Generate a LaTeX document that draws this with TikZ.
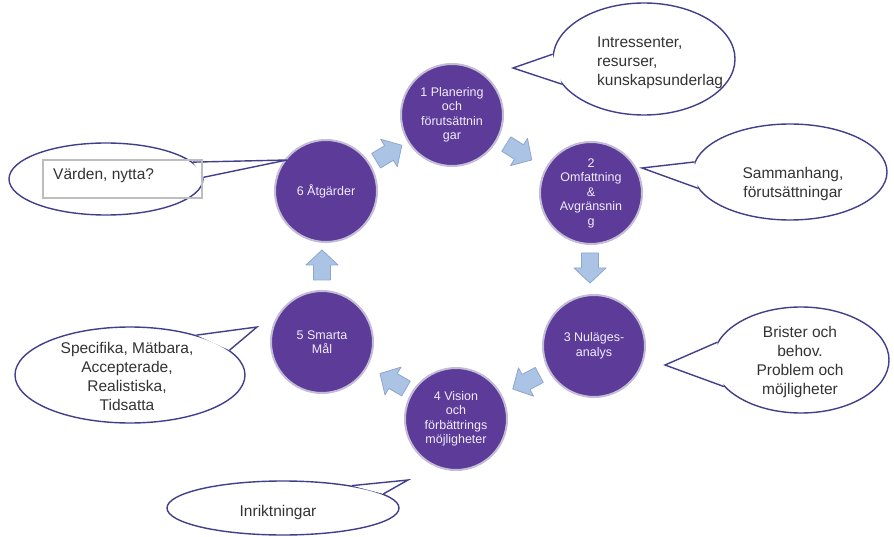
\documentclass[tikz,border=0pt]{standalone}
\usepackage{fontspec}
\setmainfont{Liberation Sans}
\usetikzlibrary{shapes.geometric}
\definecolor{circfill}{HTML}{5C3B99}
\definecolor{circring}{HTML}{C3BCD6}
\definecolor{circtext}{HTML}{F2ECFA}
\definecolor{arrfill}{HTML}{ABC4E6}
\definecolor{arrdraw}{HTML}{8DA6CC}
\definecolor{bubline}{HTML}{413F8C}
\definecolor{bubtext}{HTML}{333333}
\definecolor{boxline}{HTML}{BDBDBD}
\begin{document}
\begin{tikzpicture}[x=1pt,y=-1pt,
 stepcircle/.style={circle, fill=circfill, draw=circring, line width=2pt, minimum size=102pt, inner sep=0pt, text=circtext, align=center, font=\fontsize{12.5}{14.5}\selectfont},
 bubble/.style={ellipse, draw=bubline, fill=white, line width=1.4pt, inner sep=0pt},
 bubtxt/.style={text=bubtext, align=center, inner sep=0pt, font=\fontsize{15.5}{19}\selectfont},
 tailline/.style={draw=bubline, line width=1.4pt, line join=miter},
 blockarrow/.pic={\draw[fill=arrfill, draw=arrdraw, line width=0.8pt, line join=round] (-15,-8.5) -- (0,-8.5) -- (0,-16) -- (15,0) -- (0,16) -- (0,8.5) -- (-15,8.5) -- cycle;}
]
\useasboundingbox (0,0) rectangle (894,537);
\fill[white] (0,0) rectangle (894,537);

% step circles
\node[stepcircle] (s1) at (452,115) {1 Planering\\och\\förutsättnin\\gar};
\node[stepcircle] (s2) at (591,193) {2\\Omfattning\\\&\\Avgränsnin\\g};
\node[stepcircle] (s3) at (594,346) {3 Nuläges-\\analys};
\node[stepcircle] (s4) at (456,419) {4 Vision\\och\\förbättrings\\möjligheter};
\node[stepcircle] (s5) at (322,342) {5 Smarta\\Mål};
\node[stepcircle] (s6) at (326,191) {6 Åtgärder};

% block arrows between circles
\pic[rotate=-32] at (519,152) {blockarrow};
\pic[rotate=-90] at (590,268) {blockarrow};
\pic[rotate=-152] at (526,382) {blockarrow};
\pic[rotate=150] at (393,381) {blockarrow};
\pic[rotate=90] at (322,265) {blockarrow};
\pic[rotate=31] at (389,153) {blockarrow};

% bubble 1
\node[bubble, minimum width=182pt, minimum height=112pt] (b1) at (644,59) {};
\coordinate (t1) at (513,68);
\fill[white] (b1.177) -- (t1) -- (b1.197) -- cycle;
\draw[tailline] (b1.177) -- (t1) -- (b1.197);
\node[bubtxt, align=left, anchor=west] (x1) at (597,63) {Intressenter,\\resurser,\\kunskapsunderlag};

% bubble 2
\node[bubble, minimum width=194pt, minimum height=96pt] (b2) at (790,172) {};
\coordinate (t2) at (642,168);
\fill[white] (b2.174) -- (t2) -- (b2.190) -- cycle;
\draw[tailline] (b2.174) -- (t2) -- (b2.190);
\node[bubtxt] (x2) at (793,184) {Sammanhang,\\förutsättningar};

% bubble 3
\node[bubble, minimum width=176pt, minimum height=106pt] (b3) at (801,360) {};
\coordinate (t3) at (665,365);
\fill[white] (b3.168) -- (t3) -- (b3.199) -- cycle;
\draw[tailline] (b3.168) -- (t3) -- (b3.199);
\node[bubtxt] (x3) at (800,362) {Brister och\\behov.\\Problem och\\möjligheter};

% bubble 5
\node[bubble, minimum width=230pt, minimum height=96pt] (b5) at (130,375) {};
\coordinate (t5) at (257,327);
\fill[white] (b5.31) -- (t5) -- (b5.14) -- cycle;
\draw[tailline] (b5.31) -- (t5) -- (b5.14);
\node[bubtxt] (x5) at (127,376) {Specifika, Mätbara,\\Accepterade,\\Realistiska,\\Tidsatta};

% bubble 4
\node[bubble, minimum width=232pt, minimum height=54pt] (b4) at (283,508) {};
\coordinate (t4) at (408,480);
\fill[white] (b4.18) -- (t4) -- (b4.8) -- cycle;
\draw[tailline] (b4.18) -- (t4) -- (b4.8);
\node[bubtxt] (x4) at (278,512) {Inriktningar};

% bubble 6
\node[bubble, minimum width=194pt, minimum height=72pt] (b6) at (106,179) {};
\coordinate (t6) at (287,160);
\fill[white] (b6.11) -- (t6) -- (b6.1) -- cycle;
\draw[tailline] (b6.11) -- (t6) -- (b6.1);
\node[draw=boxline, line width=1.2pt, minimum width=159pt, minimum height=38pt, inner sep=0pt] (r6) at (122.5,179) {};
\node[bubtxt, anchor=west] (x6) at (53,175) {Värden, nytta?};
\end{tikzpicture}
\end{document}
